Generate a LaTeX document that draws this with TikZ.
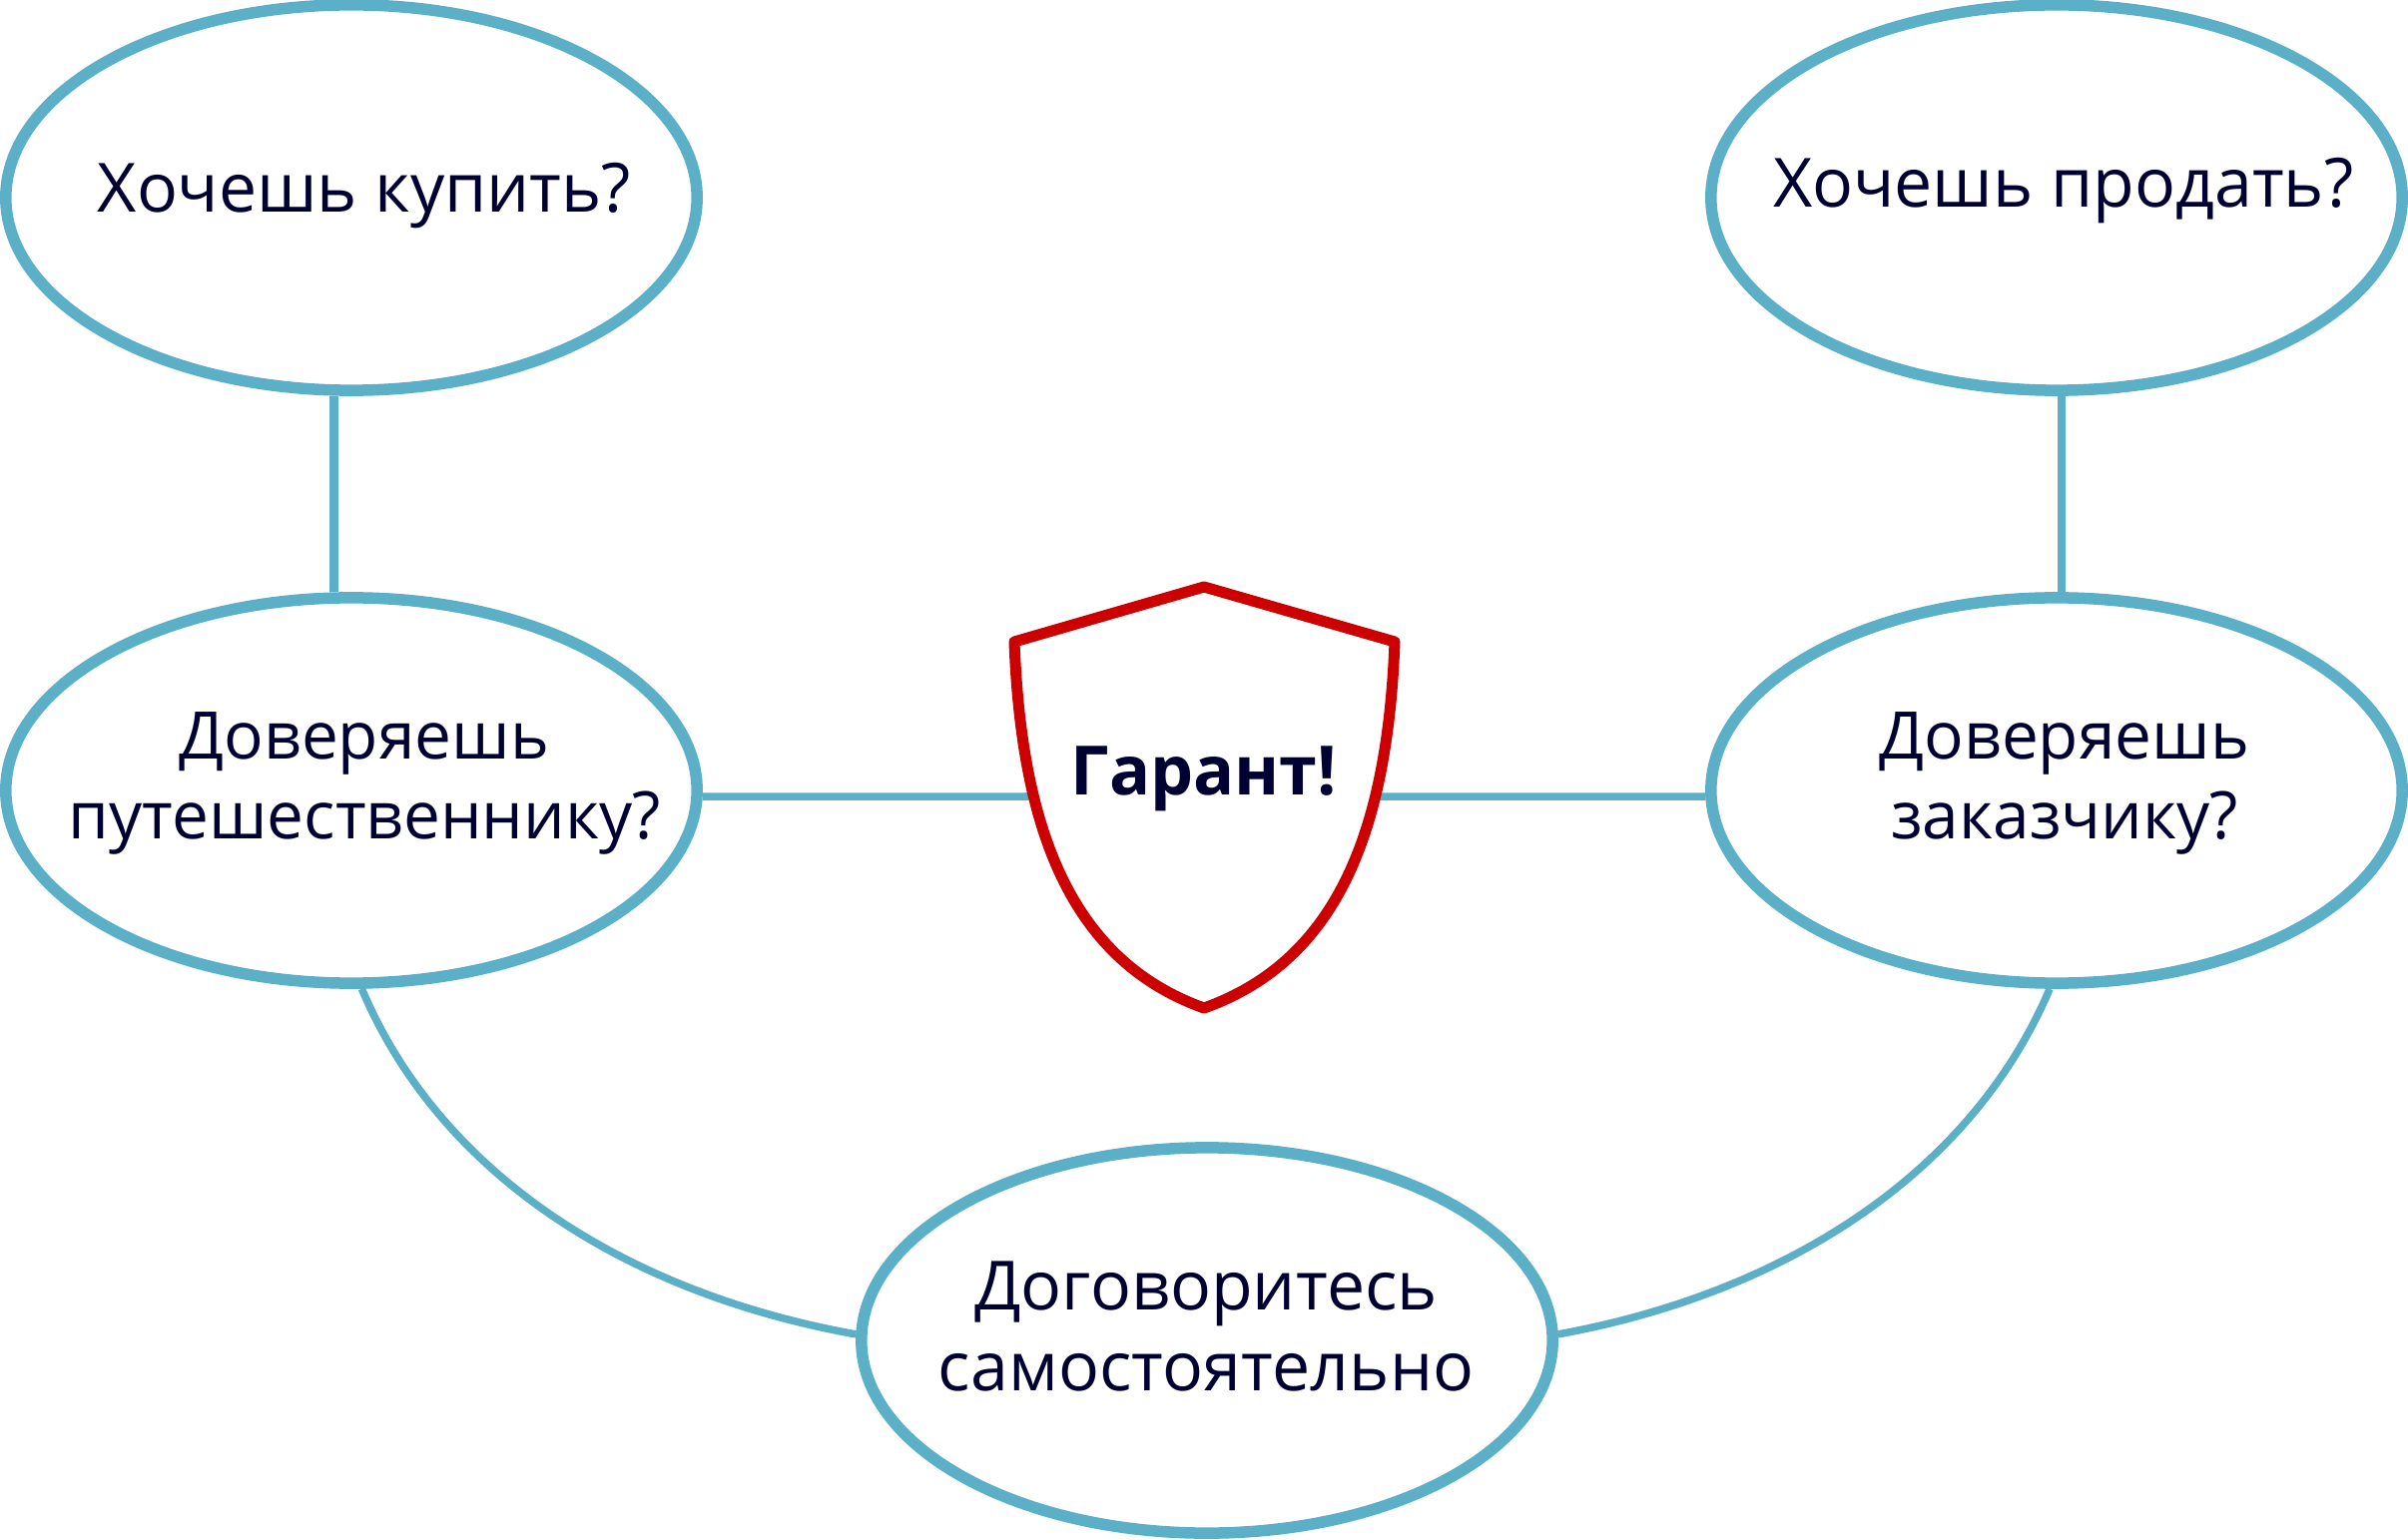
\documentclass[tikz,border=0pt]{standalone}
\usepackage{fontspec}
\usepackage{xcolor}
\usetikzlibrary{shapes.geometric}
\setmainfont{Open Sans}
\definecolor{tealline}{HTML}{5BAFC6}
\definecolor{redline}{HTML}{CC0000}
\definecolor{navytext}{HTML}{000033}

\begin{document}
\begin{tikzpicture}[
            x = 0.01cm, % one unit is one pixel
            y = -0.01cm,
            bubble/.style = {shape=ellipse, draw=tealline, line width=1.15mm, minimum width=6.92cm, minimum height=3.86cm, inner sep=0pt},
            link/.style = {draw=tealline, line width=0.75mm},
            caption/.style = {text=navytext, font=\fontsize{19.35}{22.8}\selectfont, align=center, inner sep=0pt},
            smallcaption/.style = {caption, font=\fontsize{18.7}{22.8}\selectfont}
        ]
\useasboundingbox (0,0) rectangle (2412,1543);

\node[bubble] (Buy) at (352,198) {};
\node[bubble] (Sell) at (2060,198) {};
\node[bubble] (TrustL) at (352,792) {};
\node[bubble] (TrustR) at (2060,792) {};
\node[bubble] (Self) at (1209,1343) {};

\coordinate (ShieldL) at (1032,798);
\coordinate (ShieldR) at (1380,798);

 \path [link, line width=0.85mm] (Buy.265) -- (TrustL.95);
 \path [link, line width=0.85mm] ([xshift=0.15mm]Sell.271) -- ([xshift=0.15mm]TrustR.89);
 \path [link] (TrustL.359) -- (ShieldL);
 \path [link] (TrustR.181) -- (ShieldR);
 \path [link] (TrustL.273) .. controls (440,1175) and (625,1295) .. (Self.179);
 \path [link] (TrustR.268.5) .. controls (1975,1175) and (1790,1295) .. (Self.1);

% shield
\draw[draw=redline, line width=1.1mm, line join=round, fill=white]
  (1016,643) -- (1206,588) -- (1397,643)
  .. controls (1390,830) and (1341,962) .. (1206,1010)
  .. controls (1072,962) and (1023,830) .. cycle;

\node[caption] (BuyText) at (365,196) {Хочешь купить?};
\node[caption] (SellText) at (2067,191) {Хочешь продать?};
\node[smallcaption] (TrustLText) at (365,785) {Доверяешь\\путешественнику?};
\node[smallcaption] (TrustRText) at (2068,785) {Доверяешь\\заказчику?};
\node[caption] (SelfText) at (1208,1329) {Договоритесь\\самостоятельно};
\node[caption, font=\fontsize{19.4}{22}\selectfont\bfseries] (Shield) at (1206,780) {Гарант!};
\end{tikzpicture}
\end{document}
